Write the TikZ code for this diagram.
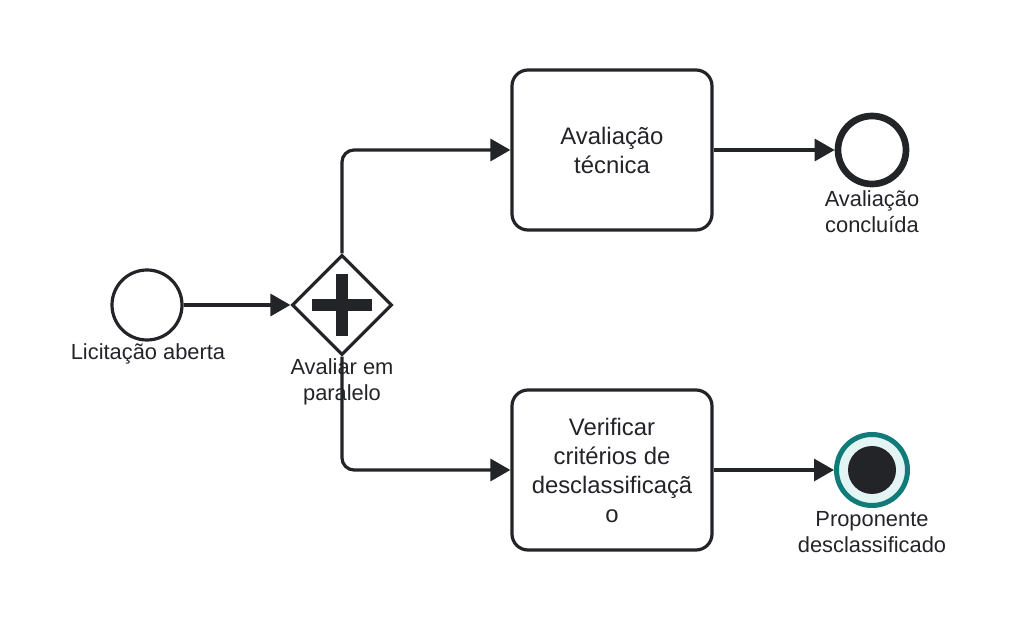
\documentclass[tikz,border=0pt]{standalone}
\usepackage{fontspec}
\setmainfont{Liberation Sans}
\usetikzlibrary{shapes.geometric,arrows.meta}
\definecolor{ink}{HTML}{232428}
\definecolor{teal}{HTML}{107B78}
\definecolor{tealfill}{HTML}{E2F4F4}
\tikzset{
  startev/.style={circle,draw=ink,line width=2.4pt,minimum size=52.5pt,inner sep=0pt,fill=white},
  endev/.style={circle,draw=ink,line width=5pt,minimum size=51pt,inner sep=0pt,fill=white},
  termev/.style={circle,draw=teal,line width=3.75pt,minimum size=53.25pt,inner sep=0pt,fill=tealfill},
  termdot/.style={circle,fill=ink,minimum size=36pt,inner sep=0pt},
  gw/.style={diamond,draw=ink,line width=2.4pt,minimum width=75pt,minimum height=75pt,inner sep=0pt,fill=white},
  task/.style={rectangle,rounded corners=12pt,draw=ink,line width=2.4pt,minimum width=150pt,minimum height=120pt,inner sep=0pt,fill=white,align=center,text=ink,font=\fontsize{17.9pt}{21.75pt}\selectfont},
  lbl/.style={align=center,text=ink,inner sep=0pt,font=\fontsize{16.4pt}{19.5pt}\selectfont},
  conn/.style={draw=ink,line width=2.4pt,-{Triangle[length=15pt,width=16.5pt]}},
}
\begin{document}
\begin{tikzpicture}[x=0.75pt,y=-0.75pt]
\useasboundingbox (0,0) rectangle (1018,630);
\node[startev] (start) at (147,305) {};
\node[gw] (gate) at (342,305) {};
\fill[ink] ([xshift=-22.5pt,yshift=-4.5pt]gate.center) rectangle ([xshift=22.5pt,yshift=4.5pt]gate.center);
\fill[ink] ([xshift=-4.5pt,yshift=-23pt]gate.center) rectangle ([xshift=4.5pt,yshift=23pt]gate.center);
\node[task] (t1) at (612,150) {Avaliação\\técnica};
\node[task] (t2) at (612,470) {Verificar\\critérios de\\desclassificaçã\\o};
\node[endev] (e1) at (872,150) {};
\node[termev] (e2) at (872,470) {};
\node[termdot] (e2dot) at (e2.center) {};
\node[lbl] (lstart) at (148,354) {Licitação aberta};
\node[lbl] (lgate) at (342,382) {Avaliar em\\paralelo};
\node[lbl] (le1) at (872,212) {Avaliação\\concluída};
\node[lbl] (le2) at (872,532) {Proponente\\desclassificado};
\draw[conn] (start) -- (gate.west);
\draw[conn,rounded corners=9pt] (gate.north) |- (t1.west);
\draw[conn,rounded corners=9pt] (gate.south) |- (t2.west);
\draw[conn] (t1.east) -- (e1.west);
\draw[conn] (t2.east) -- (e2.west);
\end{tikzpicture}
\end{document}
